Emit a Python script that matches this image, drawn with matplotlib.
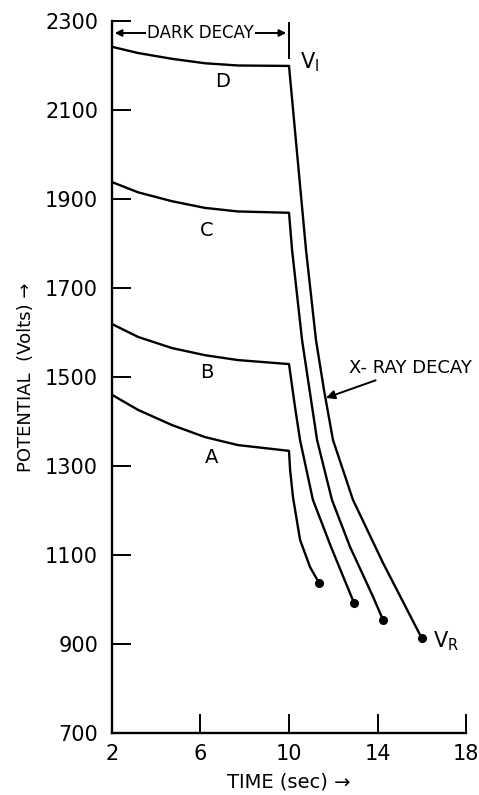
import numpy as np
import matplotlib
matplotlib.use('Agg')
import matplotlib.pyplot as plt

# dark decay part (t in sec, potential in volts)
t_dark = [2, 3.18, 4.71, 6.2, 7.69, 10]
dark_D = [2242, 2228, 2215, 2205, 2200, 2199]
dark_C = [1938, 1915, 1895, 1880, 1872, 1869]
dark_B = [1619, 1590, 1565, 1549, 1538, 1529]
dark_A = [1460, 1426, 1392, 1365, 1347, 1334]

# x-ray decay part
xt_D = [10, 10.77, 11.22, 11.58, 11.99, 12.89, 14.25, 16.0]
xv_D = [2199, 1785, 1583, 1471, 1358, 1224, 1082, 913]
xt_C = [10, 10.14, 10.59, 11.27, 11.94, 12.76, 13.8, 14.25]
xv_C = [1869, 1785, 1583, 1358, 1224, 1118, 1006, 954]
xt_B = [10, 10.27, 10.5, 11.08, 11.9, 12.94]
xv_B = [1529, 1433, 1358, 1224, 1118, 992]
xt_A = [10, 10.05, 10.18, 10.5, 10.95, 11.36]
xv_A = [1334, 1291, 1230, 1134, 1073, 1037]

curve_names = ['D', 'C', 'B', 'A']
label_pos = [(7.0, 2163), (6.3, 1830), (6.3, 1511), (6.5, 1320)]

x_ticks = [2, 6, 10, 14, 18]
y_ticks = [700, 900, 1100, 1300, 1500, 1700, 1900, 2100, 2300]

fig = plt.figure(figsize=(4.79, 7.95), dpi=100)
ax = fig.add_axes([0.2338, 0.078, 0.7391, 0.8956])

darks = [dark_D, dark_C, dark_B, dark_A]
xts = [xt_D, xt_C, xt_B, xt_A]
xvs = [xv_D, xv_C, xv_B, xv_A]
for name, dv, xt, xv, pos in zip(curve_names, darks, xts, xvs, label_pos):
    t = t_dark + xt[1:]
    v = dv + xv[1:]
    ax.plot(t, v, color='black', lw=1.7, solid_joinstyle='round')
    ax.plot(xt[-1], xv[-1], 'o', color='black', ms=5.5)
    ax.text(pos[0], pos[1], name, fontsize=14, ha='center', va='center')

ax.set_xlim(2, 18)
ax.set_ylim(700, 2300)
ax.set_xticks(x_ticks)
ax.set_yticks(y_ticks)
ax.tick_params(direction='in', length=14, width=1.4, labelsize=15)
ax.tick_params(axis='y', pad=10)
ax.tick_params(axis='x', pad=8)
for s in ['top', 'right']:
    ax.spines[s].set_visible(False)
for s in ['left', 'bottom']:
    ax.spines[s].set_linewidth(1.7)

# dark decay bracket
ax.annotate('', xy=(2, 2273), xytext=(6, 2273),
            arrowprops=dict(arrowstyle='-|>', color='black', lw=1.4), annotation_clip=False)
ax.annotate('', xy=(10, 2273), xytext=(6, 2273),
            arrowprops=dict(arrowstyle='-|>', color='black', lw=1.4), annotation_clip=False)
ax.plot([10, 10], [2217, 2296], color='black', lw=1.4, clip_on=False)
ax.text(6, 2273, 'DARK DECAY', fontsize=12, ha='center', va='center',
        bbox=dict(facecolor='white', edgecolor='none', pad=1))

ax.text(10.5, 2208, r'V$_\mathrm{I}$', fontsize=15, ha='left', va='center')
ax.text(16.5, 906, r'V$_\mathrm{R}$', fontsize=15, ha='left', va='center')

ax.annotate('X- RAY DECAY', xy=(11.67, 1453), xytext=(12.7, 1520), fontsize=13,
            ha='left', va='center',
            arrowprops=dict(arrowstyle='-|>', color='black', lw=1.4, shrinkA=1, shrinkB=0))

ax.set_xlabel('TIME (sec) \u2192', fontsize=14, labelpad=6)
ax.set_ylabel('POTENTIAL  (Volts) \u2192', fontsize=13, labelpad=7)

fig.savefig('out.png', dpi=100)
